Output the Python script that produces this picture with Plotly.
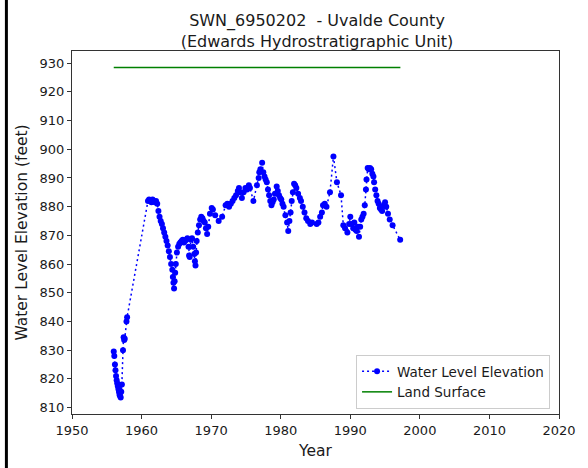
import plotly.graph_objects as go

# Water level measurements (decimal year, elevation in feet)
wl_years = [
    1956.00, 1956.08, 1956.17, 1956.25, 1956.33, 1956.42, 1956.50, 1956.58, 1956.67, 1956.75,
    1956.83, 1956.92, 1957.00, 1957.08, 1957.17, 1957.33, 1957.42, 1957.50, 1957.58, 1957.83,
    1957.92, 1960.92, 1961.08, 1961.25, 1961.42, 1961.58, 1961.75, 1961.92, 1962.08, 1962.25,
    1962.42, 1962.58, 1962.75, 1962.92, 1963.08, 1963.25, 1963.42, 1963.58, 1963.75, 1963.92,
    1964.08, 1964.25, 1964.42, 1964.50, 1964.58, 1964.67, 1964.75, 1964.83, 1964.92, 1965.08,
    1965.25, 1965.42, 1965.58, 1965.75, 1965.92, 1966.08, 1966.25, 1966.42, 1966.58, 1966.75,
    1966.83, 1966.92, 1967.08, 1967.25, 1967.42, 1967.58, 1967.67, 1967.75, 1967.83, 1967.92,
    1968.08, 1968.25, 1968.42, 1968.58, 1968.75, 1968.92, 1969.08, 1969.25, 1969.42, 1969.58,
    1969.83, 1970.08, 1970.25, 1970.58, 1971.08, 1971.58, 1972.08, 1972.33, 1972.58, 1972.83,
    1973.08, 1973.33, 1973.58, 1973.83, 1974.00, 1974.17, 1974.42, 1974.67, 1974.92, 1975.17,
    1975.42, 1975.58, 1976.08, 1976.58, 1976.83, 1976.92, 1977.08, 1977.33, 1977.50, 1977.67,
    1977.83, 1978.00, 1978.17, 1978.33, 1978.50, 1978.67, 1978.83, 1979.00, 1979.17, 1979.42,
    1979.58, 1979.75, 1979.92, 1980.08, 1980.25, 1980.42, 1980.67, 1980.92, 1981.08, 1981.25,
    1981.42, 1981.58, 1981.75, 1981.92, 1982.08, 1982.25, 1982.50, 1982.75, 1982.92, 1983.17,
    1983.42, 1983.67, 1983.92, 1984.25, 1984.50, 1985.17, 1985.42, 1985.67, 1985.92, 1986.08,
    1986.33, 1986.58, 1987.08, 1987.58, 1988.08, 1988.67, 1989.00, 1989.25, 1989.58, 1989.83,
    1990.00, 1990.17, 1990.42, 1990.58, 1990.75, 1990.92, 1991.08, 1991.25, 1991.42, 1991.58,
    1991.75, 1991.92, 1992.08, 1992.25, 1992.33, 1992.50, 1992.67, 1992.83, 1993.00, 1993.17,
    1993.33, 1993.42, 1993.58, 1993.75, 1993.92, 1994.08, 1994.25, 1994.42, 1994.58, 1994.83,
    1995.00, 1995.17, 1995.42, 1995.67, 1996.08, 1997.17,
]
wl_values = [
    829.5, 828.0, 825.0, 823.0, 821.0, 819.5, 818.5, 817.5, 816.5, 815.5,
    814.5, 814.0, 813.5, 815.5, 818.0, 830.0, 834.5, 833.5, 834.0, 840.0,
    841.5, 882.0, 882.5, 882.0, 881.5, 882.5, 882.0, 881.5, 882.0, 881.0,
    878.5, 876.5, 875.0, 874.0, 872.5, 871.0, 869.5, 868.0, 866.5, 864.5,
    862.5, 860.0, 858.0, 855.5, 853.5, 851.5, 854.0, 857.0, 860.0, 864.0,
    866.0, 867.0, 867.5, 868.0, 868.5, 867.5, 868.0, 868.5, 869.0, 866.0,
    863.0, 862.5, 868.5, 869.0, 866.0, 863.5, 861.0, 859.5, 864.0, 868.0,
    871.0, 873.5, 875.5, 876.5, 876.0, 875.0, 874.5, 872.5, 870.5, 873.0,
    877.5, 879.5, 879.0, 877.0, 875.0, 876.5, 880.5, 881.0, 880.0, 881.0,
    882.0, 883.0, 884.0, 885.5, 886.5, 885.0, 883.0, 885.0, 886.5, 886.0,
    887.5, 886.5, 882.0, 887.5, 890.0, 892.0, 893.0, 895.3, 892.0, 890.5,
    889.5, 888.5, 886.0, 884.0, 882.0, 880.5, 881.5, 882.5, 884.5, 887.0,
    885.5, 884.0, 883.0, 882.5, 881.0, 880.0, 877.0, 874.5, 871.5, 875.0,
    878.0, 882.0, 885.0, 888.0, 887.5, 886.5, 884.5, 883.0, 882.0, 880.0,
    878.0, 876.0, 875.0, 874.0, 874.5, 874.0, 874.5, 876.5, 878.0, 880.5,
    881.0, 880.0, 885.0, 897.5, 888.5, 884.0, 873.5, 872.5, 871.0, 874.0,
    876.5, 874.0, 872.5, 874.5, 872.0, 871.5, 873.0, 869.5, 873.0, 875.5,
    876.5, 877.5, 880.5, 886.0, 889.5, 893.5, 893.0, 893.5, 893.0, 891.5,
    890.5, 888.5, 886.0, 884.0, 882.0, 881.0, 879.5, 879.0, 878.5, 880.5,
    881.5, 880.0, 877.5, 875.5, 873.5, 868.5,
]

land_years = [1956.0, 1997.2]
land_values = [928.5, 928.5]

x_ticks = [1950, 1960, 1970, 1980, 1990, 2000, 2010, 2020]
y_ticks = [810, 820, 830, 840, 850, 860, 870, 880, 890, 900, 910, 920, 930]

FONT = "DejaVu Sans"
TXT = "#1a1a1a"

fig = go.Figure()
fig.add_trace(go.Scatter(
    x=wl_years, y=wl_values, mode="lines+markers", name="Water Level Elevation",
    line=dict(color="rgb(0,0,255)", width=1.5, dash="2px,3px"),
    marker=dict(color="rgb(0,0,255)", size=6, line=dict(width=0)),
))
fig.add_trace(go.Scatter(
    x=land_years, y=land_values, mode="lines", name="Land Surface",
    line=dict(color="rgb(0,128,0)", width=1.5),
))

L, R, T, B = 72, 26, 51, 52
W, H = 588, 468
pw = W - L - R
ph = H - T - B

axis_common = dict(
    showgrid=False, zeroline=False, showline=True, linecolor="#333333", linewidth=1,
    mirror=True, ticks="outside", ticklen=4, tickcolor="#333333", tickwidth=1,
    tickfont=dict(family=FONT, size=13, color=TXT),
)

fig.update_layout(
    width=W, height=H,
    margin=dict(l=L, r=R, t=T, b=B),
    paper_bgcolor="white", plot_bgcolor="white",
    font=dict(family=FONT, color=TXT),
    title=dict(
        text="SWN_6950202  - Uvalde County<br>(Edwards Hydrostratigraphic Unit)",
        x=(L + pw / 2) / W, xanchor="center", y=1 - 26 / H, yanchor="top",
        font=dict(family=FONT, size=16, color=TXT),
    ),
    xaxis=dict(
        range=[1950, 2020], tickvals=x_ticks, ticktext=[str(v) for v in x_ticks],
        title=dict(text="Year", font=dict(family=FONT, size=15.5, color=TXT), standoff=8),
        **axis_common,
    ),
    yaxis=dict(
        range=[807.75, 934.25], tickvals=y_ticks, ticktext=[str(v) for v in y_ticks],
        title=dict(text="Water Level Elevation (feet)", font=dict(family=FONT, size=15.5, color=TXT), standoff=8),
        **axis_common,
    ),
    legend=dict(
        x=(553 - L) / pw, xanchor="right", y=(416 - 411) / ph, yanchor="bottom",
        bgcolor="rgba(255,255,255,0.8)", bordercolor="#cccccc", borderwidth=1,
        font=dict(family=FONT, size=13.5, color=TXT), itemwidth=30, tracegroupgap=0,
    ),
    showlegend=True,
)

# black bar along the left edge of the image
fig.add_shape(type="rect", xref="paper", yref="paper",
              x0=(4.5 - L) / pw, x1=(7.5 - L) / pw, y0=-(B + 5) / ph, y1=(ph + T + 5) / ph,
              fillcolor="black", line=dict(width=0), layer="above")

fig.write_html(
    "out.html",
    config={"displayModeBar": False},
    post_script="document.body.style.margin='0';document.body.style.padding='0';",
)
